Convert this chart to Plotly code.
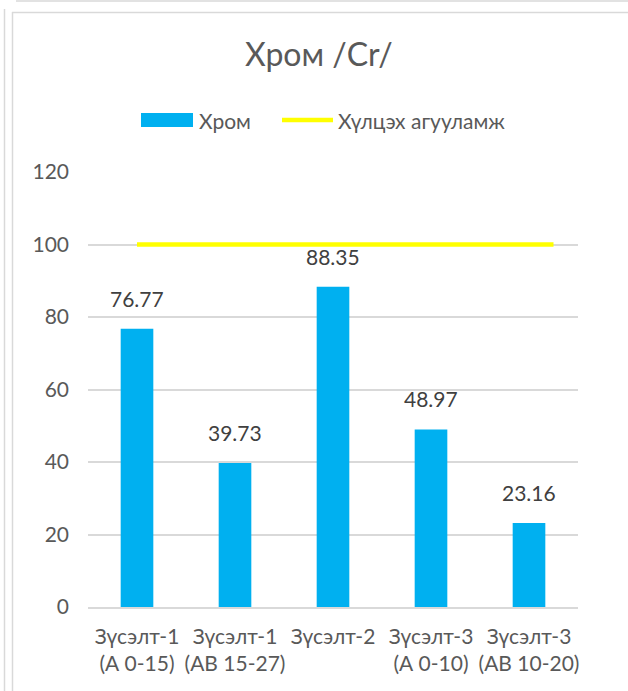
import plotly.graph_objects as go

# ---- data ----
categories = ["Зүсэлт-1<br>(А 0-15)", "Зүсэлт-1<br>(АВ 15-27)", "Зүсэлт-2",
              "Зүсэлт-3<br>(А 0-10)", "Зүсэлт-3<br>(АВ 10-20)"]
chrome_values = [76.77, 39.73, 88.35, 48.97, 23.16]
norm_value = 100
norm_span = [0, 4.25]          # category positions covered by the norm line
y_ticks = [0, 20, 40, 60, 80, 100, 120]

series_names = ["Хром", "Хүлцэх агууламж"]
title_text = "Хром /Cr/"

# ---- geometry (pixels) ----
W, H = 628, 691
L, R, T, B = 88, 578, 172, 607
FONT = "Lato"
GRAY = "#595959"
DARK = "#404040"
BORDER = "#d9d9d9"
FS = 21


def px(x):
    return (x - L) / (R - L)


def py(y):
    return (B - y) / (B - T)


xs = list(range(len(categories)))

fig = go.Figure()
fig.add_trace(go.Bar(
    x=xs, y=chrome_values, width=0.333, marker=dict(color="#00B0F0", line=dict(width=0)),
    name=series_names[0], showlegend=False, hoverinfo="y"))
fig.add_trace(go.Scatter(
    x=norm_span, y=[norm_value] * len(norm_span), mode="lines",
    line=dict(color="#FFFF00", width=4.5), name=series_names[1], showlegend=False))

annotations = []
for x, v in zip(xs, chrome_values):
    annotations.append(dict(x=x, y=v, xref="x", yref="y", text=f"{v:.2f}", showarrow=False,
                            yanchor="bottom", yshift=16, font=dict(family=FONT, size=FS, color=DARK)))

# title
annotations.append(dict(x=px(319), y=py(54), xref="paper", yref="paper", text=title_text,
                        showarrow=False, xanchor="center", yanchor="middle",
                        font=dict(family=FONT, size=32, color=GRAY)))
# custom legend
annotations.append(dict(x=px(197), y=py(120), xref="paper", yref="paper", text=series_names[0],
                        showarrow=False, xanchor="left", yanchor="middle",
                        font=dict(family=FONT, size=FS, color=GRAY)))
annotations.append(dict(x=px(336), y=py(120), xref="paper", yref="paper", text=series_names[1],
                        showarrow=False, xanchor="left", yanchor="middle",
                        font=dict(family=FONT, size=FS, color=GRAY)))

shapes = [
    dict(type="rect", xref="paper", yref="paper", x0=px(141), x1=px(193), y0=py(113), y1=py(127),
         fillcolor="#00B0F0", line=dict(width=0)),
    dict(type="line", xref="paper", yref="paper", x0=px(282), x1=px(333), y0=py(120), y1=py(120),
         line=dict(color="#FFFF00", width=4.5)),
    # frames
    dict(type="line", xref="paper", yref="paper", x0=px(16), x1=px(640), y0=py(1), y1=py(1),
         line=dict(color=BORDER, width=1.5)),
    dict(type="line", xref="paper", yref="paper", x0=px(4.5), x1=px(4.5), y0=py(9), y1=py(700),
         line=dict(color=BORDER, width=1.5)),
    dict(type="line", xref="paper", yref="paper", x0=px(12), x1=px(640), y0=py(12.5), y1=py(12.5),
         line=dict(color=BORDER, width=1.5)),
    dict(type="line", xref="paper", yref="paper", x0=px(12.5), x1=px(12.5), y0=py(12), y1=py(700),
         line=dict(color=BORDER, width=1.5)),
]

fig.update_layout(
    width=W, height=H,
    margin=dict(l=L, r=W - R, t=T, b=H - B, autoexpand=False),
    paper_bgcolor="white", plot_bgcolor="white",
    font=dict(family=FONT, size=FS, color=GRAY),
    showlegend=False,
    annotations=annotations, shapes=shapes,
    xaxis=dict(range=[-0.5, 4.5], tickvals=xs, ticktext=categories, showgrid=False, zeroline=False,
               showline=True, linecolor=BORDER, linewidth=1.5, ticks="", ticklabelstandoff=10,
               tickfont=dict(family=FONT, size=FS, color=GRAY), fixedrange=True),
    yaxis=dict(range=[0, 120], tickvals=y_ticks, showgrid=True, gridcolor=BORDER, gridwidth=1.5,
               zeroline=False, showline=False, ticks="", ticklabelstandoff=18,
               tickfont=dict(family=FONT, size=FS, color=GRAY), fixedrange=True),
)

fig.write_html("out.html", config={"displayModeBar": False},
               post_script="document.body.style.margin='0';document.body.style.overflow='hidden';")
